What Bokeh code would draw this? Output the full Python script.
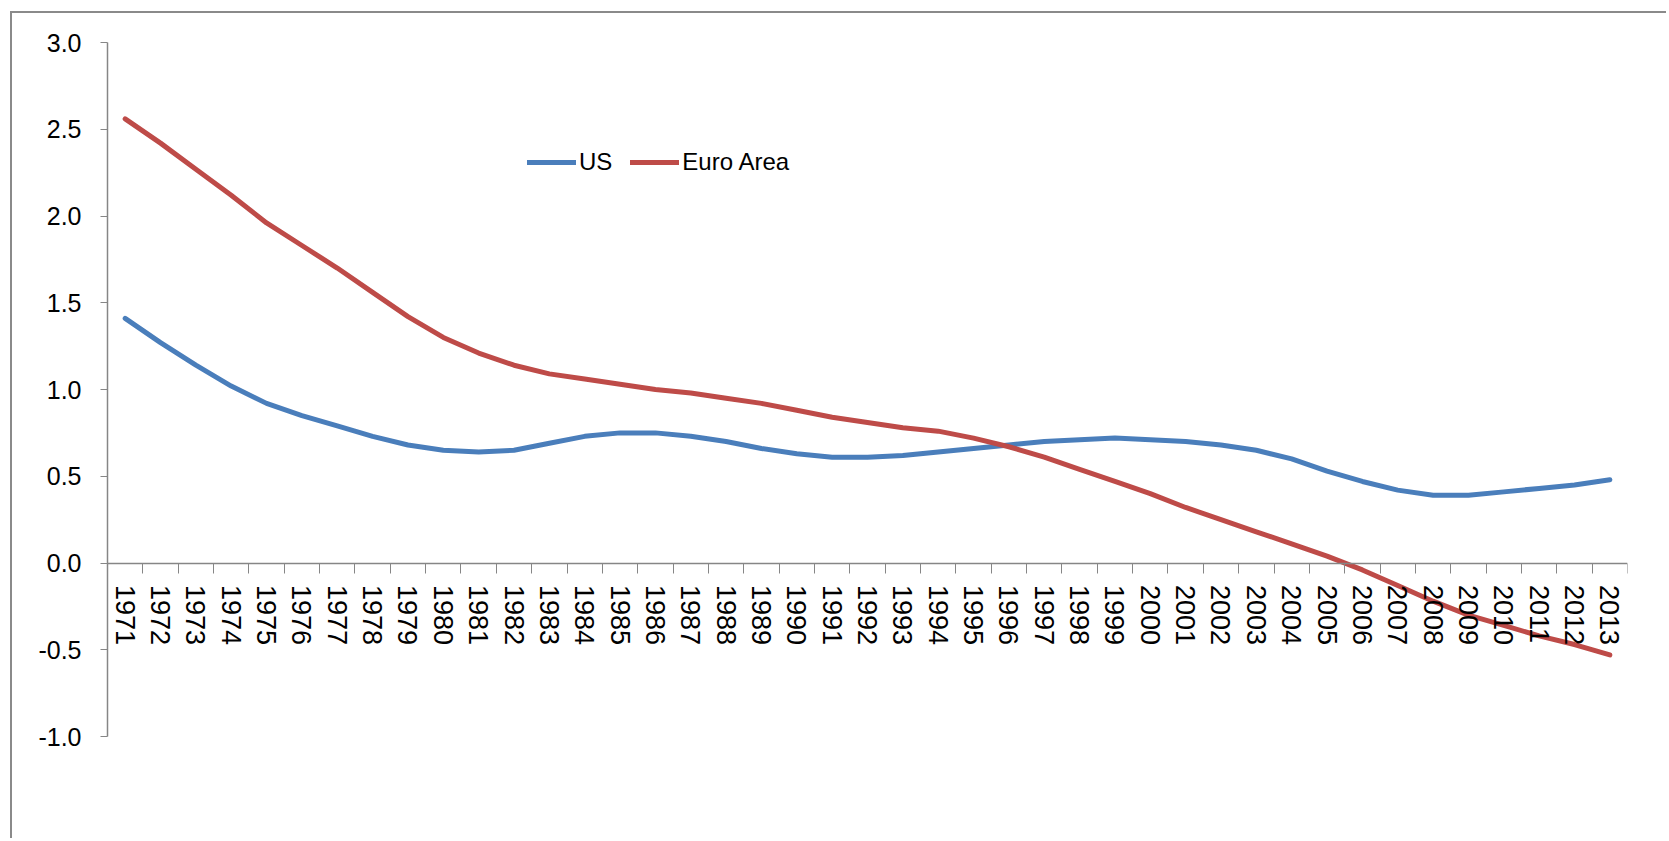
from bokeh.plotting import figure
from bokeh.models import Range1d, FixedTicker, PrintfTickFormatter, Legend, LegendItem
from bokeh.embed import file_html
from bokeh.resources import INLINE

years = list(range(1971, 2014))
us = [1.41, 1.27, 1.14, 1.02, 0.92, 0.85, 0.79, 0.73, 0.68, 0.65, 0.64,
      0.65, 0.69, 0.73, 0.75, 0.75, 0.73, 0.70, 0.66, 0.63, 0.61, 0.61,
      0.62, 0.64, 0.66, 0.68, 0.70, 0.71, 0.72, 0.71, 0.70, 0.68, 0.65,
      0.60, 0.53, 0.47, 0.42, 0.39, 0.39, 0.41, 0.43, 0.45, 0.48]
euro = [2.56, 2.42, 2.27, 2.12, 1.96, 1.83, 1.70, 1.56, 1.42, 1.30, 1.21,
        1.14, 1.09, 1.06, 1.03, 1.00, 0.98, 0.95, 0.92, 0.88, 0.84, 0.81,
        0.78, 0.76, 0.72, 0.67, 0.61, 0.54, 0.47, 0.40, 0.32, 0.25, 0.18,
        0.11, 0.04, -0.04, -0.13, -0.22, -0.30, -0.36, -0.42, -0.47, -0.53]
y_ticks = [-1.0, -0.5, 0.0, 0.5, 1.0, 1.5, 2.0, 2.5, 3.0]
series_names = ["US", "Euro Area"]

FONT = "'Liberation Sans', Arial, sans-serif"
AXIS_GREY = "#868686"

xs = [i + 0.5 for i in range(len(years))]

p = figure(width=1656, height=827, output_backend="svg", toolbar_location=None,
           x_range=Range1d(0, len(years)), y_range=Range1d(-1.0, 3.0),
           min_border_left=95, min_border_right=41, min_border_top=29, min_border_bottom=104)
p.styles = {"border-left": "2px solid #8a8a8a", "border-top": "2px solid #8a8a8a",
            "margin-left": "10px", "margin-top": "11px"}
p.outline_line_color = None
p.grid.visible = False
p.background_fill_color = "white"
p.border_fill_color = "white"

r_us = p.line(xs, us, line_color="#4A7EBB", line_width=5, line_cap="round", line_join="round")
r_eu = p.line(xs, euro, line_color="#BE4B48", line_width=5, line_cap="round", line_join="round")

# x axis crossing at zero, ticks between categories
xa = p.xaxis[0]
xa.fixed_location = 0
xa.ticker = FixedTicker(ticks=xs, minor_ticks=list(range(len(years) + 1)))
xa.major_label_overrides = {x: str(y) for x, y in zip(xs, years)}
xa.major_label_orientation = "vertical"
xa.major_tick_out = 0
xa.major_tick_in = 0
xa.minor_tick_out = 10
xa.minor_tick_in = 0
xa.minor_tick_line_color = AXIS_GREY
xa.axis_line_color = AXIS_GREY
xa.axis_line_width = 1.5
xa.major_label_standoff = 12
xa.major_label_text_font = FONT
xa.major_label_text_font_size = "27px"
xa.major_label_text_color = "black"

ya = p.yaxis[0]
ya.ticker = FixedTicker(ticks=y_ticks, minor_ticks=[])
ya.formatter = PrintfTickFormatter(format="%.1f")
ya.major_tick_out = 7
ya.major_tick_in = 0
ya.major_tick_line_color = AXIS_GREY
ya.axis_line_color = AXIS_GREY
ya.axis_line_width = 1.5
ya.major_label_standoff = 19
ya.major_label_text_font = FONT
ya.major_label_text_font_size = "25px"
ya.major_label_text_color = "black"

legend = Legend(items=[LegendItem(label=series_names[0], renderers=[r_us]),
                       LegendItem(label=series_names[1], renderers=[r_eu])],
                orientation="horizontal", location=(420, 559),
                glyph_width=49, glyph_height=30, label_height=30,
                label_standoff=3, spacing=18, padding=0, margin=0,
                border_line_alpha=0, background_fill_alpha=0,
                label_text_font=FONT, label_text_font_size="24px",
                label_text_color="black")
p.add_layout(legend, "center")

open("out.html", "w").write(file_html(p, INLINE))
